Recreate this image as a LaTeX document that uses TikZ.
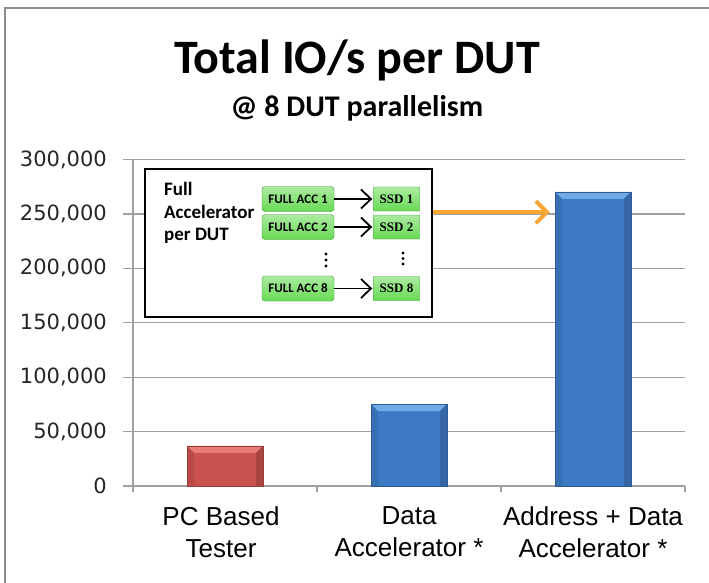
\documentclass[tikz,border=0pt]{standalone}
\usepackage{fontspec}
\setmainfont{Carlito}
\newfontfamily\axisfont{DejaVu Sans}
\newfontfamily\catfont{Liberation Sans}
\newfontfamily\ssdfont{Liberation Serif}
\usetikzlibrary{arrows.meta,calc}

\definecolor{framegray}{RGB}{140,140,140}
\definecolor{gridgray}{RGB}{160,160,160}
\definecolor{barred}{RGB}{201,81,78}
\definecolor{barredlight}{RGB}{232,124,121}
\definecolor{barblue}{RGB}{62,121,196}
\definecolor{barbluelight}{RGB}{112,170,232}
\definecolor{accgreen}{RGB}{104,218,84}
\definecolor{accedge}{RGB}{52,158,42}
\definecolor{feedorange}{RGB}{248,166,52}

\begin{document}
\begin{tikzpicture}[
    x=1pt, y=-1pt,
    >={Straight Barb[length=10pt,width=19pt]},
    bar/.style={
      anchor=south,
      minimum width=76pt,
      inner sep=0pt,
      draw=#1!75!black,
      line width=0.5pt,
      fill=#1
    },
    bevel/.style 2 args={
      path picture={
        \fill[#1] (path picture bounding box.north west)
          -- (path picture bounding box.north east)
          -- ([shift={(-7pt,-7pt)}]path picture bounding box.north east)
          -- ([shift={(7pt,-7pt)}]path picture bounding box.north west)
          -- cycle;
        \fill[#2] (path picture bounding box.north east)
          -- (path picture bounding box.south east)
          -- ([shift={(-7pt,0pt)}]path picture bounding box.south east)
          -- ([shift={(-7pt,-7pt)}]path picture bounding box.north east)
          -- cycle;
        \fill[#2, opacity=0.5] (path picture bounding box.north west)
          -- (path picture bounding box.south west)
          -- ([shift={(7pt,0pt)}]path picture bounding box.south west)
          -- ([shift={(7pt,-7pt)}]path picture bounding box.north west)
          -- cycle;
      }
    },
    insetbox/.style={
      draw=black,
      line width=1.6pt,
      fill=white,
      minimum width=287pt,
      minimum height=148pt,
      inner sep=0pt
    },
    accbox/.style={
      draw=accedge,
      top color=accgreen!55!white,
      bottom color=accgreen,
      rounded corners=3pt,
      minimum width=72pt,
      minimum height=25pt,
      inner sep=0pt,
      font=\fontsize{13}{15}\selectfont\bfseries
    },
    ssdbox/.style={
      accbox,
      rounded corners=0.5pt,
      minimum width=46pt,
      minimum height=24pt,
      font=\ssdfont\fontsize{13}{15}\selectfont\bfseries
    },
    dot/.style={
      circle,
      fill=black,
      inner sep=0pt,
      minimum size=3.4pt
    },
    link/.style={
      ->,
      line width=1.8pt,
      shorten >=1pt
    },
    feed/.style={
      -{Straight Barb[length=11pt,width=22pt]},
      line width=4pt,
      feedorange,
      shorten >=5pt
    },
    ticklabel/.style={
      anchor=east,
      inner sep=0pt,
      text=black!85,
      font=\axisfont\fontsize{21}{25}\selectfont
    },
    catlabel/.style={
      anchor=north,
      align=center,
      inner sep=0pt,
      font=\catfont\fontsize{26}{32}\selectfont
    }
  ]
    \useasboundingbox (0,0) rectangle (709,583);

    % outer frame, cut off right and below
    \draw[framegray, line width=2.5pt] (5,583) -- (5,8) -- (709,8);

    \node[anchor=base, font=\fontsize{48}{56}\selectfont\bfseries] (title) at (357,74) {Total IO/s per DUT};
    \node[anchor=base, font=\fontsize{30}{34}\selectfont\bfseries] (subtitle) at (357,117) {@ 8 DUT parallelism};

    % grid and value axis
    \foreach \i/\t in {0/0,1/{50,000},2/{100,000},3/{150,000},4/{200,000},5/{250,000},6/{300,000}} {
      \draw[gridgray, line width=1.2pt] (123,486-54.4*\i) -- (685,486-54.4*\i);
      \node[ticklabel] (v\i) at (107,486-54.4*\i) {\t};
    }
    \draw[gridgray, line width=1.2pt] (133,159.6) -- (133,486);
    \foreach \x in {133,317,501,685}
      \draw[gridgray, line width=1.2pt] (\x,486) -- (\x,492);

    % bars
    \node[bar=barred, bevel={barredlight}{barred!85!black}, minimum height=40pt] (b1) at (225,486) {};
    \node[bar=barblue, bevel={barbluelight}{barblue!85!black}, minimum height=81.6pt] (b2) at (409,486) {};
    \node[bar=barblue, bevel={barbluelight}{barblue!85!black}, minimum height=293.8pt] (b3) at (593,486) {};

    \node[catlabel] (c1) at (221,506) {PC Based\\Tester};
    \node[catlabel] (c2) at (409,506) {Data\\Accelerator *};
    \node[catlabel] (c3) at (593,506) {Address + Data\\Accelerator *};

    % inset
    \node[insetbox] (inset) at (288.5,243) {};
    \node[anchor=north west, align=left, inner sep=0pt,
          font=\fontsize{19}{22.5}\selectfont\bfseries] (full) at (164,182) {Full\\Accelerator\\per DUT};

    \foreach \n/\y in {1/199,2/227,8/288.5} {
      \node[accbox] (acc\n) at (298,\y) {FULL ACC \n};
      \node[ssdbox] (ssd\n) at (396.5,\y) {SSD \n};
      \draw[link] (acc\n) -- (ssd\n);
    }
    \foreach \k in {0,1,2} {
      \node[dot] (accdot\k) at (326,254+6*\k) {};
      \node[dot] (ssddot\k) at (403,253+5.5*\k) {};
    }

    \draw[feed] ([yshift=-44pt]inset.north east) -- ([yshift=-44pt]inset.north east -| b3.west);
  \end{tikzpicture}
\end{document}
